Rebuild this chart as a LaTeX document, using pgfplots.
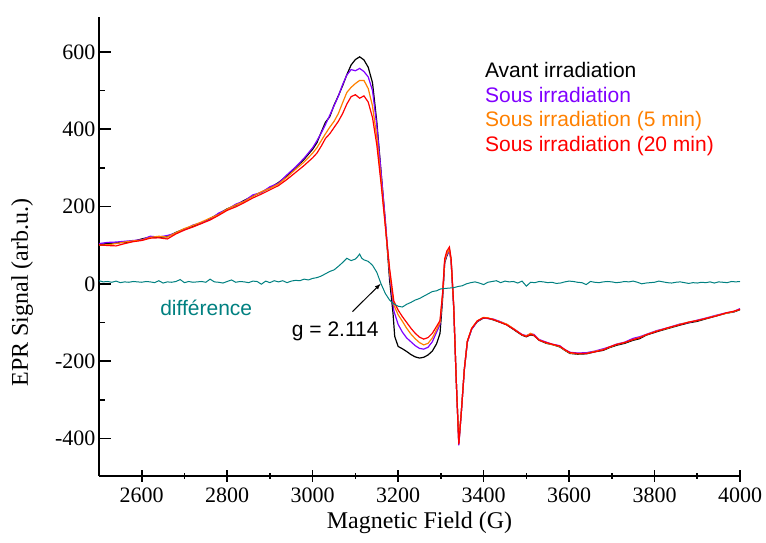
\documentclass[border=0pt]{standalone}
\usepackage{pgfplots}
\pgfplotsset{compat=1.18}
\usepackage{fontspec}
\setmainfont{Liberation Serif}
\newfontfamily\arial{Liberation Sans}
\definecolor{cblack}{RGB}{0,0,0}
\definecolor{cpurple}{RGB}{128,0,255}
\definecolor{corange}{RGB}{255,128,0}
\definecolor{cred}{RGB}{255,0,0}
\definecolor{cteal}{RGB}{0,128,128}
\begin{document}
\begin{tikzpicture}
\useasboundingbox (-99pt,-67pt) rectangle (667pt,476pt);
\begin{axis}[
  at={(0,0)}, anchor=south west,
  scale only axis, width=641pt, height=459pt,
  xmin=2500, xmax=4000, ymin=-497, ymax=690,
  axis x line=bottom, axis y line=left,
  axis line style={-, line width=1.6pt},
  xtick={2600,2800,3000,3200,3400,3600,3800,4000},
  minor x tick num=1,
  ytick={-400,-200,0,200,400,600},
  yticklabels={-400,-200,0,200,400,600},
  minor y tick num=1,
  tick align=inside,
  xtick align=center,
  major tick length=12pt, minor tick length=6pt,
  tick style={line width=1.6pt, black},
  /pgf/number format/assume math mode=true,
  /pgf/number format/set thousands separator={},
  xticklabel style={font=\fontsize{22}{26}\selectfont, yshift=-2pt},
  yticklabel style={font=\fontsize{22}{26}\selectfont},
  xlabel={Magnetic Field (G)},
  ylabel={EPR Signal (arb.u.)},
  xlabel style={font=\fontsize{24}{28}\selectfont, at={(axis description cs:0.5,-0.102)}, anchor=center},
  ylabel style={font=\fontsize{24}{28}\selectfont, at={(axis description cs:-0.12,0.40)}, anchor=center},
  clip=false,
  every axis plot/.append style={line width=1.2pt},
]
\addplot[cblack] coordinates {(2500,102)(2520,104)(2540,106)(2560,107)(2580,110)(2600,116)(2620,121)(2640,120)(2660,122)(2680,133)(2700,142)(2720,149)(2740,157)(2760,169)(2780,181)(2800,194)(2820,203)(2840,216)(2860,227)(2880,237)(2900,248)(2920,262)(2940,279)(2960,300)(2980,322)(3000,348)(3010,365)(3020,392)(3030,418)(3040,432)(3050,462)(3060,486)(3070,512)(3080,541)(3090,566)(3100,580)(3110,587)(3120,579)(3130,560)(3140,520)(3150,420)(3160,290)(3170,160)(3180,10)(3188,-76)(3192,-136)(3200,-162)(3210,-168)(3220,-175)(3230,-183)(3240,-189)(3250,-192)(3260,-190)(3270,-184)(3280,-174)(3290,-155)(3298,-128)(3304,-40)(3309,55)(3314,72)(3320,88)(3324,60)(3330,-60)(3336,-250)(3342,-412)(3348,-330)(3355,-220)(3362,-150)(3372,-117)(3385,-98)(3399,-89)(3410,-89)(3422,-93)(3440,-100)(3454,-106)(3470,-118)(3490,-133)(3500,-137)(3510,-132)(3518,-134)(3530,-146)(3547,-154)(3560,-157)(3578,-163)(3590,-172)(3602,-180)(3620,-182)(3641,-181)(3660,-176)(3680,-172)(3695,-165)(3711,-159)(3730,-154)(3750,-146)(3765,-142)(3780,-133)(3805,-124)(3830,-116)(3859,-107)(3880,-101)(3900,-97)(3922,-90)(3945,-83)(3968,-76)(3985,-73)(4000,-67)};
\addplot[cpurple] coordinates {(2500,104)(2520,107)(2540,108)(2560,110)(2580,112)(2600,114)(2620,123)(2640,121)(2660,125)(2680,131)(2700,140)(2720,152)(2740,158)(2760,166)(2780,183)(2800,192)(2820,206)(2840,214)(2860,230)(2880,236)(2900,251)(2920,260)(2940,282)(2960,302)(2980,325)(3000,352)(3010,370)(3020,390)(3030,412)(3040,436)(3050,460)(3060,485)(3070,515)(3080,540)(3090,554)(3100,551)(3110,557)(3120,549)(3130,535)(3140,500)(3150,410)(3160,290)(3170,165)(3180,25)(3190,-70)(3200,-105)(3210,-125)(3220,-140)(3230,-150)(3240,-160)(3250,-167)(3260,-169)(3270,-164)(3280,-150)(3290,-125)(3298,-105)(3304,-30)(3309,58)(3314,75)(3320,86)(3324,58)(3330,-60)(3336,-250)(3342,-418)(3348,-330)(3355,-222)(3362,-150)(3372,-118)(3385,-97)(3399,-88)(3410,-90)(3422,-91)(3440,-98)(3454,-105)(3470,-116)(3490,-131)(3500,-134)(3510,-129)(3518,-131)(3530,-144)(3547,-151)(3560,-156)(3578,-160)(3590,-170)(3602,-177)(3620,-179)(3641,-178)(3660,-174)(3680,-168)(3695,-163)(3711,-156)(3730,-151)(3750,-141)(3765,-137)(3780,-131)(3805,-121)(3830,-114)(3859,-104)(3880,-100)(3900,-94)(3922,-88)(3945,-81)(3968,-75)(3985,-72)(4000,-64)};
\addplot[corange] coordinates {(2500,100)(2520,101)(2540,104)(2560,108)(2580,111)(2600,113)(2620,120)(2640,123)(2660,121)(2680,132)(2700,143)(2720,151)(2740,160)(2760,170)(2780,179)(2800,193)(2820,204)(2840,213)(2860,226)(2880,238)(2900,247)(2920,258)(2940,276)(2960,296)(2980,315)(3000,338)(3010,352)(3020,370)(3030,388)(3040,405)(3050,420)(3060,440)(3070,468)(3080,495)(3090,508)(3100,518)(3110,526)(3120,526)(3130,505)(3140,460)(3150,380)(3160,270)(3170,150)(3180,30)(3190,-55)(3200,-80)(3210,-97)(3220,-115)(3230,-130)(3240,-142)(3250,-152)(3260,-158)(3270,-154)(3280,-140)(3290,-118)(3298,-100)(3304,-28)(3309,60)(3314,78)(3320,90)(3324,60)(3330,-58)(3336,-250)(3342,-410)(3348,-328)(3355,-220)(3362,-148)(3372,-115)(3385,-96)(3399,-87)(3410,-88)(3422,-92)(3440,-99)(3454,-104)(3470,-116)(3490,-132)(3500,-135)(3510,-128)(3518,-133)(3530,-145)(3547,-153)(3560,-157)(3578,-162)(3590,-171)(3602,-179)(3620,-181)(3641,-180)(3660,-175)(3680,-170)(3695,-164)(3711,-157)(3730,-152)(3750,-144)(3765,-139)(3780,-132)(3805,-122)(3830,-115)(3859,-105)(3880,-99)(3900,-95)(3922,-89)(3945,-82)(3968,-76)(3985,-72)(4000,-66)};
\addplot[cred] coordinates {(2500,101)(2520,99)(2540,98)(2560,104)(2580,109)(2600,112)(2620,118)(2640,119)(2660,116)(2680,129)(2700,139)(2720,147)(2740,156)(2760,165)(2780,177)(2800,190)(2820,199)(2840,210)(2860,222)(2880,232)(2900,243)(2920,254)(2940,270)(2960,288)(2980,306)(3000,326)(3010,338)(3020,356)(3030,376)(3040,388)(3050,404)(3060,420)(3070,440)(3080,465)(3090,484)(3100,489)(3110,480)(3120,486)(3130,470)(3140,430)(3150,360)(3160,260)(3170,150)(3180,40)(3190,-45)(3200,-68)(3210,-85)(3220,-100)(3230,-115)(3240,-128)(3250,-138)(3260,-143)(3270,-139)(3280,-128)(3290,-110)(3298,-95)(3304,-25)(3309,65)(3314,85)(3320,95)(3324,65)(3330,-55)(3336,-250)(3342,-415)(3348,-330)(3355,-220)(3362,-148)(3372,-116)(3385,-96)(3399,-88)(3410,-89)(3422,-92)(3440,-100)(3454,-106)(3470,-117)(3490,-132)(3500,-136)(3510,-131)(3518,-133)(3530,-146)(3547,-152)(3560,-156)(3578,-161)(3590,-170)(3602,-178)(3620,-180)(3641,-180)(3660,-176)(3680,-171)(3695,-163)(3711,-157)(3730,-152)(3750,-144)(3765,-140)(3780,-132)(3805,-123)(3830,-114)(3859,-106)(3880,-99)(3900,-95)(3922,-89)(3945,-83)(3968,-75)(3985,-71)(4000,-66)};
\addplot[cteal, line width=1pt] coordinates {(2500,8)(2510,5)(2520,6)(2530,4)(2540,7)(2550,3)(2560,5)(2570,4)(2580,6)(2590,5)(2600,4)(2610,6)(2620,5)(2630,3)(2640,8)(2650,2)(2660,5)(2670,4)(2680,6)(2690,11)(2700,3)(2710,6)(2720,4)(2730,5)(2740,6)(2750,4)(2760,12)(2770,5)(2780,4)(2790,2)(2800,6)(2810,10)(2820,4)(2830,6)(2840,5)(2850,3)(2860,7)(2870,6)(2880,-1)(2890,7)(2900,3)(2910,8)(2920,5)(2930,8)(2940,3)(2950,7)(2960,9)(2970,8)(2980,12)(2990,10)(3000,14)(3010,16)(3020,20)(3030,26)(3040,32)(3050,36)(3060,45)(3070,55)(3080,66)(3090,60)(3100,64)(3105,70)(3110,77)(3115,66)(3120,62)(3130,58)(3140,48)(3150,30)(3160,0)(3170,-25)(3180,-42)(3190,-52)(3200,-58)(3210,-60)(3220,-53)(3230,-48)(3240,-42)(3250,-38)(3260,-32)(3270,-26)(3280,-20)(3290,-18)(3300,-13)(3310,-12)(3320,-11)(3330,-10)(3340,-7)(3350,-5)(3360,0)(3370,3)(3380,5)(3390,2)(3400,-2)(3410,4)(3420,6)(3430,8)(3440,3)(3450,7)(3460,5)(3470,6)(3480,2)(3490,7)(3500,-6)(3510,4)(3520,3)(3530,6)(3540,5)(3550,3)(3560,4)(3570,1)(3580,2)(3590,5)(3600,7)(3610,6)(3620,4)(3630,3)(3640,-2)(3650,6)(3660,4)(3670,3)(3680,5)(3690,6)(3700,5)(3710,3)(3720,4)(3730,6)(3740,5)(3750,7)(3760,4)(3770,0)(3780,2)(3790,3)(3800,4)(3810,7)(3820,5)(3830,3)(3840,2)(3850,4)(3860,5)(3870,3)(3880,1)(3890,3)(3900,2)(3910,4)(3920,3)(3930,5)(3940,2)(3950,5)(3960,4)(3970,3)(3980,6)(3990,5)(4000,6)};
\node[anchor=west, text=cblack, font=\arial\fontsize{21}{25}\selectfont, inner sep=0pt] at (axis cs:3403,554) {Avant irradiation};
\node[anchor=west, text=cpurple, font=\arial\fontsize{21}{25}\selectfont, inner sep=0pt] at (axis cs:3403,489) {Sous irradiation};
\node[anchor=west, text=corange, font=\arial\fontsize{21}{25}\selectfont, inner sep=0pt] at (axis cs:3403,420) {Sous irradiation (5 min)};
\node[anchor=west, text=cred, font=\arial\fontsize{21}{25}\selectfont, inner sep=0pt] at (axis cs:3403,355) {Sous irradiation (20 min)};
\node[anchor=west, text=cteal, font=\arial\fontsize{21}{25}\selectfont, inner sep=0pt] at (axis cs:2643,-62) {différence};
\node[anchor=west, text=black, font=\arial\fontsize{21}{25}\selectfont, inner sep=0pt] at (axis cs:2951,-123) {g = 2.114};
\draw[-latex, line width=1pt] (axis cs:3093,-72) -- (axis cs:3159,0);
\end{axis}
\end{tikzpicture}
\end{document}
